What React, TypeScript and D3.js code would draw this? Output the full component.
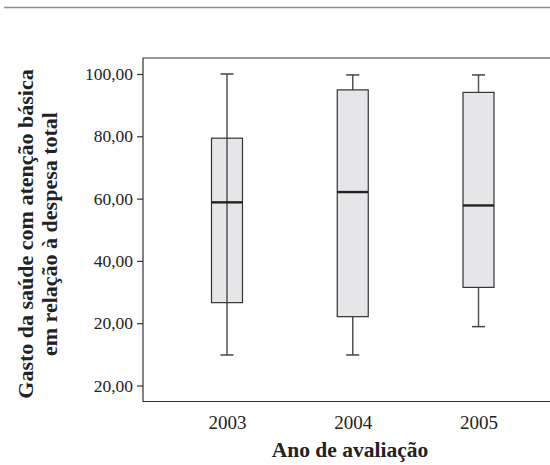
import React, { useRef, useEffect } from 'react';
import * as d3 from 'd3';

// box plot values
const years = ['2003', '2004', '2005'];
const whiskerMin = [9.8, 9.8, 18.9];
const q1 = [26.6, 22.1, 31.5];
const median = [58.8, 62.1, 57.8];
const q3 = [79.4, 94.9, 94.1];
const whiskerMax = [100, 99.7, 99.7];
const yTicks = [0, 20, 40, 60, 80, 100];
const yTickLabels = ['20,00', '20,00', '40,00', '60,00', '80,00', '100,00'];

const App = () => {
  const ref = useRef<SVGSVGElement | null>(null);

  useEffect(() => {
    if (!ref.current) return;
    const svg = d3.select(ref.current);
    svg.selectAll('*').remove();

    const font = '"Liberation Serif", "DejaVu Serif", serif';
    const left = 143, top = 58, bottom = 401.5, right = 550;

    const y = d3.scaleLinear().domain([0, 100]).range([385.5, 74]);
    const x = d3.scalePoint<string>().domain(years).range([227, 478.5]);
    const boxW = 31;
    const capW = 13;

    // top rule
    svg.append('line')
      .attr('x1', 4).attr('x2', 550).attr('y1', 7.5).attr('y2', 7.5)
      .attr('stroke', '#8c8c8c').attr('stroke-width', 1.6);

    // frame
    svg.append('path')
      .attr('d', `M${right},${top}H${left}V${bottom}H${right}`)
      .attr('fill', 'none').attr('stroke', '#333').attr('stroke-width', 1.2);

    // y axis
    const yAxis = d3.axisLeft(y).tickValues(yTicks).tickSize(6).tickPadding(4)
      .tickFormat((d, i) => yTickLabels[i]);
    const ya = svg.append('g').attr('transform', `translate(${left},0)`).call(yAxis);
    ya.select('.domain').remove();
    ya.selectAll('line').attr('stroke', '#333').attr('stroke-width', 1.2);
    ya.selectAll('text').attr('font-family', font).attr('font-size', 17.5).attr('fill', '#222');

    // x labels
    const xAxis = d3.axisBottom(x).tickSize(0).tickPadding(14);
    const xa = svg.append('g').attr('transform', `translate(0,${bottom})`).call(xAxis);
    xa.select('.domain').remove();
    xa.selectAll('text').attr('font-family', font).attr('font-size', 19).attr('fill', '#222');

    const g = svg.append('g');
    years.forEach((yr, i) => {
      const cx = x(yr)!;
      // box fill first, so the 2003 whisker can run through it
      g.append('rect')
        .attr('x', cx - boxW / 2).attr('width', boxW)
        .attr('y', y(q3[i])).attr('height', y(q1[i]) - y(q3[i]))
        .attr('fill', '#e6e6e8');
      if (i === 0) {
        g.append('line').attr('x1', cx).attr('x2', cx)
          .attr('y1', y(whiskerMax[i])).attr('y2', y(whiskerMin[i]))
          .attr('stroke', '#555').attr('stroke-width', 1.5);
      } else {
        g.append('line').attr('x1', cx).attr('x2', cx)
          .attr('y1', y(whiskerMax[i])).attr('y2', y(q3[i]))
          .attr('stroke', '#555').attr('stroke-width', 1.5);
        g.append('line').attr('x1', cx).attr('x2', cx)
          .attr('y1', y(q1[i])).attr('y2', y(whiskerMin[i]))
          .attr('stroke', '#555').attr('stroke-width', 1.5);
      }
      [whiskerMax[i], whiskerMin[i]].forEach(v => {
        g.append('line').attr('x1', cx - capW / 2).attr('x2', cx + capW / 2)
          .attr('y1', y(v)).attr('y2', y(v))
          .attr('stroke', '#444').attr('stroke-width', 1.5);
      });
      g.append('rect')
        .attr('x', cx - boxW / 2).attr('width', boxW)
        .attr('y', y(q3[i])).attr('height', y(q1[i]) - y(q3[i]))
        .attr('fill', 'none')
        .attr('stroke', '#333').attr('stroke-width', 1.2);
      g.append('line').attr('x1', cx - boxW / 2).attr('x2', cx + boxW / 2)
        .attr('y1', y(median[i])).attr('y2', y(median[i]))
        .attr('stroke', '#222').attr('stroke-width', 2.4);
    });

    // axis titles
    svg.append('text')
      .attr('x', 350).attr('y', 457)
      .attr('text-anchor', 'middle').attr('font-family', font)
      .attr('font-weight', 'bold').attr('font-size', 21.5).attr('fill', '#222')
      .text('Ano de avaliação');

    const yt = svg.append('text')
      .attr('transform', 'translate(0,234) rotate(-90)')
      .attr('text-anchor', 'middle').attr('font-family', font)
      .attr('font-weight', 'bold').attr('font-size', 22).attr('fill', '#222');
    yt.append('tspan').attr('x', 0).attr('y', 33).text('Gasto da saúde com atenção básica');
    yt.append('tspan').attr('x', 0).attr('y', 57).text('em relação à despesa total');
  }, []);

  return <svg ref={ref} width={550} height={465} style={{ position: 'absolute', left: 0, top: 0, background: '#fff' }} />;
};

export default App;
